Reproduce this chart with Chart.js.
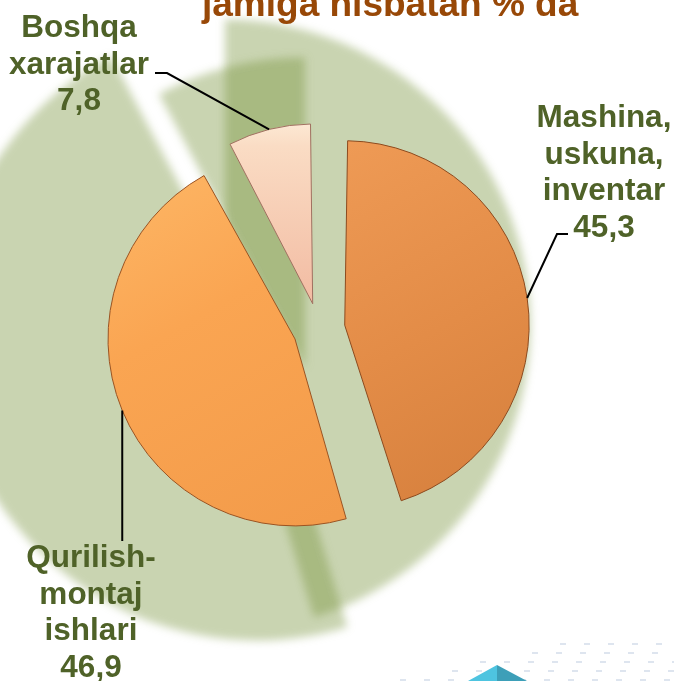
<!DOCTYPE html>
<html>
<head>
<meta charset="utf-8">
<script src="https://cdn.jsdelivr.net/npm/chart.js@4.4.1/dist/chart.umd.min.js"></script>
<style>
  html, body { margin: 0; padding: 0; background: #ffffff; overflow: hidden; }
  #wrap { position: relative; width: 674px; height: 681px; }
  canvas { display: block; }
</style>
</head>
<body>
<div id="wrap"><canvas id="pieChart" width="674" height="681"></canvas></div>
<script>
// Ma'lumotlar (rasmdan o'qilgan)
var titleText = 'jamiga nisbatan % da';
var categories = ['Mashina, uskuna, inventar', 'Qurilish-montaj ishlari', 'Boshqa xarajatlar'];
var labelLines = [['Mashina,', 'uskuna,', 'inventar'], ['Qurilish-', 'montaj', 'ishlari'], ['Boshqa', 'xarajatlar']];
var values = [45.3, 46.9, 7.8];

// Yorliqlar joylashuvi (markaz x, birinchi qator y, chiziq bukilishi)
var labelPlace = [
    { x: 604, y: 127, elbow: [557, 234], end: [568, 234] },
    { x: 91, y: 567, elbow: null, end: [null, 541] },
    { x: 79, y: 37, elbow: [167, 73], end: [155, 73] }
];

// Orqa fondagi yashil "soya" bo'laklar
var ghostShift = [[-94, -4], [-62, 1], [-14, 39]];
var ghostScale = [1.84, 1.87, 1.87];

var labelFont = 'bold 31.5px "Liberation Sans", Arial, sans-serif';
var labelColor = '#4F6228';

function sliceFill(context) {
    var chart = context.chart;
    var i = context.dataIndex;
    var c = chart.ctx;
    var area = chart.chartArea;
    if (!area) return '#F5A050';
    var cx = (area.left + area.right) / 2;
    var cy = (area.top + area.bottom) / 2;
    var g;
    if (i === 0) {
        g = c.createLinearGradient(cx, cy - 180, cx + 200, cy + 180);
        g.addColorStop(0, '#EE9A55');
        g.addColorStop(0.5, '#E38C47');
        g.addColorStop(1, '#D47E3C');
    } else if (i === 1) {
        g = c.createLinearGradient(cx - 200, cy - 150, cx, cy + 200);
        g.addColorStop(0, '#FDB665');
        g.addColorStop(0.4, '#FAA552');
        g.addColorStop(1, '#F39B4A');
    } else {
        g = c.createLinearGradient(cx, cy - 210, cx, cy);
        g.addColorStop(0, '#FFF8E8');
        g.addColorStop(0.25, '#FADCC4');
        g.addColorStop(1, '#F2BBA2');
    }
    return g;
}

function arcGeom(arc) {
    var p = arc.getProps(['x', 'y', 'startAngle', 'endAngle', 'outerRadius', 'circumference'], true);
    var off = (arc.options.offset || 0) / 4;
    var fix = 1 - Math.sin(Math.min(Math.PI, p.circumference));
    var mid = (p.startAngle + p.endAngle) / 2;
    return {
        x: p.x + Math.cos(mid) * off,
        y: p.y + Math.sin(mid) * off,
        r: p.outerRadius + off * fix,
        mid: mid,
        start: p.startAngle,
        end: p.endAngle,
        cx: p.x, cy: p.y, baseR: p.outerRadius
    };
}

var fonPlugin = {
    id: 'fon',
    beforeDatasetsDraw: function (chart) {
        var ctx = chart.ctx;
        var meta = chart.getDatasetMeta(0);
        ctx.save();
        ctx.filter = 'blur(4px)';
        ctx.fillStyle = 'rgba(117,145,55,0.39)';
        meta.data.forEach(function (arc, i) {
            var g = arcGeom(arc);
            var gx = g.cx + ghostShift[i][0];
            var gy = g.cy + ghostShift[i][1];
            ctx.beginPath();
            ctx.moveTo(gx, gy);
            ctx.arc(gx, gy, g.baseR * ghostScale[i], g.start, g.end);
            ctx.closePath();
            ctx.fill();
        });
        ctx.restore();

        // pastki o'ng burchakdagi bezak: nuqtali fon va piramida
        ctx.save();
        ctx.fillStyle = 'rgba(160,180,210,0.35)';
        for (var row = 0; row < 5; row++) {
            var y = 643 + row * 9;
            var x0 = 560 - row * 40;
            for (var x = x0 + (row % 2) * 12; x < 674; x += 24) {
                ctx.fillRect(x, y, 6, 2);
            }
        }
        ctx.fillStyle = '#4EC4E0';
        ctx.beginPath();
        ctx.moveTo(497, 665); ctx.lineTo(497, 681); ctx.lineTo(468, 681); ctx.closePath(); ctx.fill();
        ctx.fillStyle = '#3D9FB8';
        ctx.beginPath();
        ctx.moveTo(497, 665); ctx.lineTo(527, 681); ctx.lineTo(497, 681); ctx.closePath(); ctx.fill();
        ctx.restore();
    },
    afterDraw: function (chart) {
        var ctx = chart.ctx;
        var meta = chart.getDatasetMeta(0);
        ctx.save();
        // sarlavha (yuqori qismi kesilgan)
        ctx.font = 'bold 37px "Liberation Sans", Arial, sans-serif';
        ctx.fillStyle = '#984807';
        ctx.textAlign = 'left';
        ctx.textBaseline = 'alphabetic';
        ctx.fillText(titleText, 202, 16);

        ctx.strokeStyle = '#000000';
        ctx.lineWidth = 2;
        ctx.font = labelFont;
        ctx.fillStyle = labelColor;
        ctx.textAlign = 'center';
        meta.data.forEach(function (arc, i) {
            var g = arcGeom(arc);
            var ax = g.x + Math.cos(g.mid) * g.r;
            var ay = g.y + Math.sin(g.mid) * g.r;
            var pl = labelPlace[i];
            ctx.beginPath();
            ctx.moveTo(ax, ay);
            if (pl.elbow) {
                ctx.lineTo(pl.elbow[0], pl.elbow[1]);
                ctx.lineTo(pl.end[0], pl.end[1]);
            } else {
                ctx.lineTo(ax, pl.end[1]);
            }
            ctx.stroke();

            var lines = labelLines[i].concat([String(values[i]).replace('.', ',')]);
            lines.forEach(function (t, k) {
                ctx.fillText(t, pl.x, pl.y + k * 36.5);
            });
        });
        ctx.restore();
    }
};

var ctx = document.getElementById('pieChart').getContext('2d');
var pieChart = new Chart(ctx, {
    type: 'pie',
    data: {
        labels: categories,
        datasets: [{
            data: values,
            backgroundColor: sliceFill,
            borderColor: ['#8C4A1E', '#9A5322', '#A07060'],
            borderWidth: 1,
            offset: 104
        }]
    },
    options: {
        responsive: false,
        devicePixelRatio: 1,
        animation: false,
        radius: 166,
        layout: { padding: { left: 0, right: 36, top: 0, bottom: 23 } },
        plugins: {
            legend: { display: false },
            tooltip: { enabled: false },
            title: { display: false }
        }
    },
    plugins: [fonPlugin]
});
</script>
</body>
</html>
